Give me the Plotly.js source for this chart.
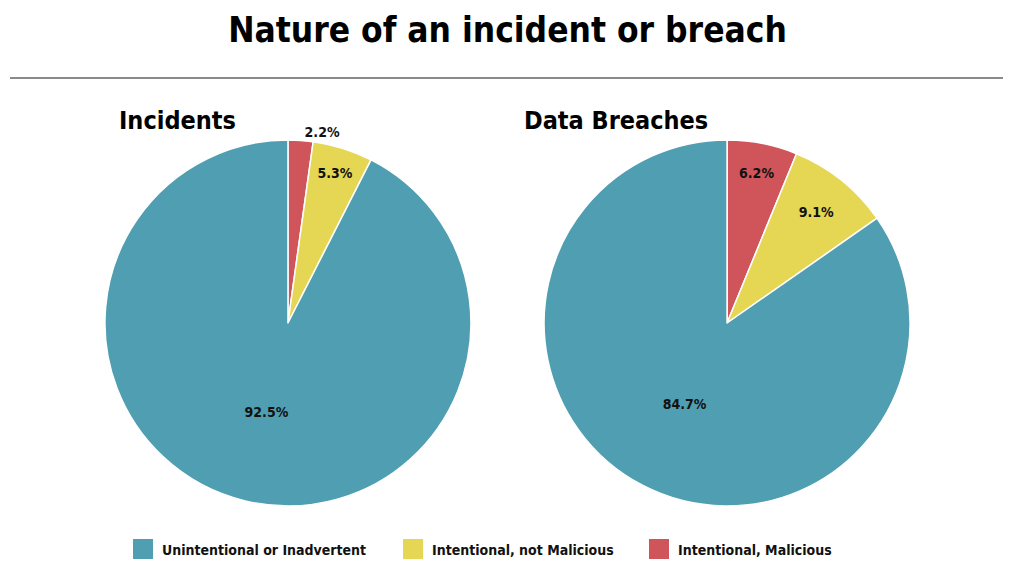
<!DOCTYPE html>
<html>
<head>
<meta charset="utf-8">
<script src="https://cdn.plot.ly/plotly-3.0.1.min.js"></script>
<style>html,body{margin:0;padding:0;background:#fff;}#chart{width:1015px;height:567px;}</style>
</head>
<body>
<div id="chart"></div>
<script>
var chartTitle = "Nature of an incident or breach";
var pieTitles = ["Incidents", "Data Breaches"];
var categories = ["Unintentional or Inadvertent", "Intentional, not Malicious", "Intentional, Malicious"];
var incidentValues = [92.5, 5.3, 2.2];
var breachValues = [84.7, 9.1, 6.2];
var colors = ["#509EB1", "#E5D653", "#CF555A"];

var FONT = "'DejaVu Sans Condensed', 'DejaVu Sans', sans-serif";

// slices are drawn clockwise from 12 o'clock starting with the last category
function rev(a) { return a.slice().reverse(); }

function pieTrace(values, domX, positions) {
  return {
    type: "pie",
    labels: rev(categories),
    values: rev(values),
    sort: false,
    direction: "clockwise",
    rotation: 0,
    domain: {x: domX, y: [0.1076, 0.7531]},
    marker: {colors: rev(colors), line: {color: "#ffffff", width: 1.5}},
    texttemplate: "%{value:.1f}%",
    textposition: rev(positions),
    insidetextorientation: "horizontal",
    textfont: {family: FONT, size: 14, color: "#111111", weight: "bold"},
    showlegend: false,
    hoverinfo: "label+percent"
  };
}

var data = [
  pieTrace(incidentValues, [0.1034, 0.4640], ["inside", "inside", "outside"]),
  pieTrace(breachValues, [0.5360, 0.8966], ["inside", "inside", "inside"])
];

var annotations = [
  {text: "<b>" + pieTitles[0] + "</b>", x: 117/1015, y: 1 - 120/567, xref: "paper", yref: "paper",
   xanchor: "left", yanchor: "middle", showarrow: false, font: {family: FONT, size: 25, color: "#000"}},
  {text: "<b>" + pieTitles[1] + "</b>", x: 522/1015, y: 1 - 120/567, xref: "paper", yref: "paper",
   xanchor: "left", yanchor: "middle", showarrow: false, font: {family: FONT, size: 25, color: "#000"}}
];

var shapes = [
  {type: "line", xref: "paper", yref: "paper", x0: 10/1015, x1: 1003/1015, y0: 1 - 78/567, y1: 1 - 78/567,
   line: {color: "#8a8a8a", width: 2}}
];

// custom legend built from categories and colors
var legendSquareX = [133, 403, 649];
for (var i = 0; i < categories.length; i++) {
  var x0 = legendSquareX[i];
  shapes.push({type: "rect", xref: "paper", yref: "paper",
    x0: x0/1015, x1: (x0 + 20)/1015, y0: 1 - 559/567, y1: 1 - 539/567,
    fillcolor: colors[i], line: {width: 0}});
  annotations.push({text: "<b>" + categories[i] + "</b>", x: (x0 + 27)/1015, y: 1 - 550/567,
    xref: "paper", yref: "paper", xanchor: "left", yanchor: "middle", showarrow: false,
    font: {family: FONT, size: 14, color: "#111"}});
}

var layout = {
  width: 1015, height: 567,
  margin: {l: 0, r: 0, t: 0, b: 0},
  paper_bgcolor: "#ffffff",
  title: {text: "<b>" + chartTitle + "</b>", x: 0.5, xanchor: "center", y: 1 - 30/567, yanchor: "middle",
          font: {family: FONT, size: 35, color: "#000"}},
  showlegend: false,
  annotations: annotations,
  shapes: shapes
};

Plotly.newPlot("chart", data, layout, {displayModeBar: false, staticPlot: true});
</script>
</body>
</html>
